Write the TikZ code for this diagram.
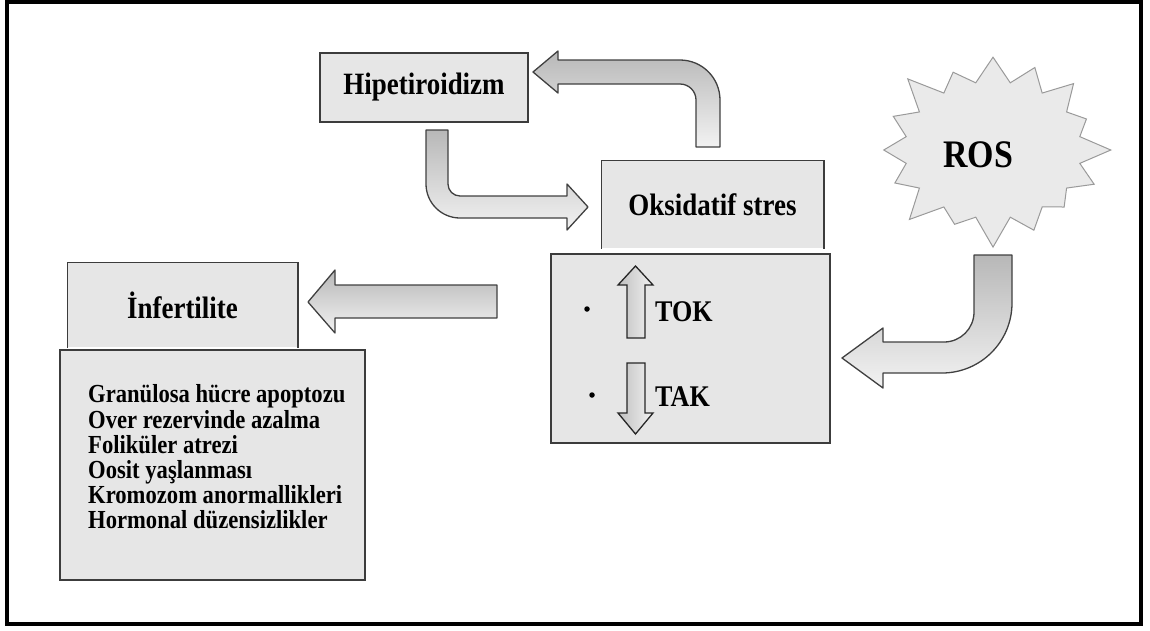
\documentclass[tikz,border=0pt]{standalone}
\usepackage{fontspec}
\setmainfont[FakeStretch=0.87]{Liberation Serif}
\usetikzlibrary{shapes.symbols,positioning,calc}
\definecolor{osBox}{HTML}{E6E6E6}
\definecolor{osLine}{HTML}{3C3C3C}
\definecolor{osStar}{HTML}{EAEAEA}
\definecolor{osStarLine}{HTML}{9A9A9A}
\tikzset{
  osbox/.style={
    draw=osLine, fill=osBox, line width=1.5pt, inner sep=0pt,
    font=\fontsize{31}{34}\selectfont\bfseries, align=center
  },
  ostitle/.style={osbox, draw=none},
  osedge/.style={draw=osLine, line width=1.5pt},
  oslist/.style={font=\fontsize{26}{25.2}\selectfont\bfseries, align=left, anchor=west, inner sep=0pt},
  bendarrow/.style={draw=black!75, line width=1.3pt, line join=round, top color=black!28, bottom color=black!5},
  levelarrow/.style={draw=black!85, line width=1.3pt, left color=black!25, right color=black!5},
  ros/.style={
    starburst, starburst points=16, starburst point height=34pt,
    fill=osStar, draw=osStarLine, line width=1pt,
    minimum width=245pt, minimum height=205pt
  },
  roslabel/.style={font=\fontsize{39}{40}\selectfont\bfseries},
  mark label/.style={font=\fontsize{30}{32}\selectfont\bfseries, anchor=west, inner sep=0pt},
  dot/.style={circle, fill=black, inner sep=0pt, minimum size=5.5pt}
}

\begin{document}
\begin{tikzpicture}[x=1pt, y=-1pt]
  \useasboundingbox (0,0) rectangle (1150,630);
  \draw[line width=4pt] (7,2) rectangle (1141,623.5);

  % boxes
  \node[osbox, minimum width=208pt, minimum height=69pt] (hip) at (424,87.5) {Hipetiroidizm};
  \node[ostitle, minimum width=221pt, minimum height=87pt] (oks) at (712.5,204.5) {Oksidatif stres};
  \draw[osedge] (oks.south west) |- (oks.north east) -- (oks.south east);
  \node[osbox, minimum width=279pt, minimum height=189pt] (olc) at (690.5,348.5) {};
  \node[ostitle, minimum width=229pt, minimum height=84pt] (inf) at (182.5,305) {İnfertilite};
  \draw[osedge] (inf.south west) |- (inf.north east) -- (inf.south east);
  \node[osbox, minimum width=305pt, minimum height=230pt] (etk) at (212.5,465) {};
  \node[oslist] (etklist) at (88,457) {Granülosa hücre apoptozu\\
    Over rezervinde azalma\\
    Foliküler atrezi\\
    Oosit yaşlanması\\
    Kromozom anormallikleri\\
    Hormonal düzensizlikler};

  % ROS
  \node[ros] (ros) at (993,150) {};
  \node[roslabel] (roslbl) at (978,155) {ROS};

  % TOK / TAK
  \node[dot] (b1) at (587,309) {};
  \node[dot] (b2) at (592,395) {};
  \draw[levelarrow] (627,338) -- (627,285) -- (618,285) -- (635.5,266) -- (653,285) -- (645,285) -- (645,338) -- cycle;
  \draw[levelarrow] (627,363) -- (627,413) -- (618,413) -- (635.5,434) -- (653,413) -- (645,413) -- (645,363) -- cycle;
  \node[mark label] (tok) at (655,312) {TOK};
  \node[mark label] (tak) at (655,397) {TAK};

  % block arrows
  \draw[bendarrow] (696,147) -- (720,147) -- (720,100) arc[start angle=0, end angle=-90, radius=40]
    -- (558,60) -- (558,51) -- (533,72) -- (558,93) -- (558,84) -- (680,84)
    arc[start angle=-90, end angle=0, radius=16] -- cycle;
  \draw[bendarrow] (426,130) -- (448,130) -- (448,184) arc[start angle=180, end angle=90, radius=12]
    -- (567,196) -- (567,184) -- (588,207) -- (567,230) -- (567,218) -- (460,218)
    arc[start angle=90, end angle=180, radius=34] -- cycle;
  \draw[bendarrow] (974,255) -- (1012,255) -- (1012,303) arc[start angle=0, end angle=90, radius=70]
    -- (883,373) -- (883,388) -- (842,358) -- (883,328) -- (883,342) -- (944,342)
    arc[start angle=90, end angle=0, radius=30] -- cycle;
  \draw[bendarrow] (497,285) -- (497,318) -- (335,318) -- (335,333) -- (308,302) -- (335,270) -- (335,285) -- cycle;
\end{tikzpicture}
\end{document}
